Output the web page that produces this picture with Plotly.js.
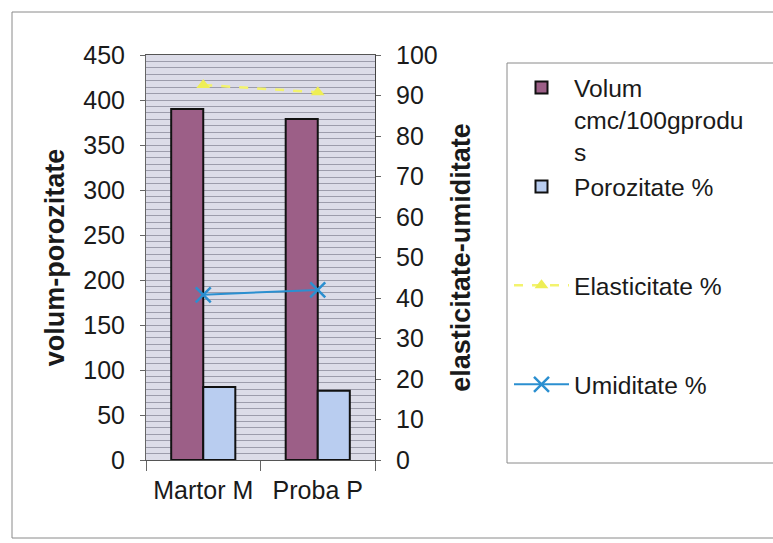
<!DOCTYPE html>
<html>
<head>
<meta charset="utf-8">
<script src="https://cdn.plot.ly/plotly-3.0.1.min.js"></script>
<style>html,body{margin:0;padding:0;background:#fff;}#chart{width:773px;height:543px;}</style>
</head>
<body>
<div id="chart"></div>
<script>
var categories = ["Martor M", "Proba P"];
var volum = [390, 379];
var porozitate = [81, 77];
var elasticitate = [92.6, 90.8];
var umiditate = [40.8, 42];
var leftTicks = [0, 50, 100, 150, 200, 250, 300, 350, 400, 450];
var rightTicks = [0, 10, 20, 30, 40, 50, 60, 70, 80, 90, 100];

var FONT = "Liberation Sans, Arial, sans-serif";

var traces = [
  {type: "bar", x: categories, y: volum, name: "Volum<br>cmc/100gprodu<br>s",
   marker: {color: "#9c5f87", line: {color: "#111", width: 2}}, yaxis: "y"},
  {type: "bar", x: categories, y: porozitate, name: "Porozitate %<br> <br> ",
   marker: {color: "#b9cdf0", line: {color: "#111", width: 2}}, yaxis: "y"},
  {type: "scatter", mode: "lines+markers", x: categories, y: elasticitate, name: "Elasticitate %<br> <br> ",
   line: {color: "#f3f36e", width: 2.5, dash: "dash"},
   marker: {symbol: "triangle-up", size: 12, color: "#eeee55"}, yaxis: "y2"},
  {type: "scatter", mode: "lines+markers", x: categories, y: umiditate, name: "Umiditate %",
   line: {color: "#2b8fd0", width: 2},
   marker: {symbol: "x-thin", size: 15, line: {color: "#2b8fd0", width: 2.5}}, yaxis: "y2"}
];

var L = 146, R = 375, T = 55, B = 460;
function px(x) { return (x - L) / (R - L); }
function py(y) { return (B - y) / (B - T); }

var layout = {
  width: 773, height: 543,
  margin: {l: L, r: 773 - R, t: T, b: 543 - B},
  paper_bgcolor: "#ffffff",
  plot_bgcolor: "#dcdce8",
  barmode: "group", bargap: 0.44, bargroupgap: 0,
  font: {family: FONT, color: "#1a1a1a", size: 25},
  showlegend: true,
  legend: {x: px(509), xanchor: "left", y: py(65), yanchor: "top",
           bgcolor: "rgba(0,0,0,0)", borderwidth: 0, valign: "top",
           itemwidth: 55, font: {family: FONT, size: 24.6, color: "#1a1a1a"},
           traceorder: "normal"},
  xaxis: {type: "category", showline: true, linecolor: "#555", linewidth: 1, mirror: true,
          ticks: "outside", tickson: "boundaries", ticklen: 10, tickcolor: "#666",
          ticklabelstandoff: 8, tickfont: {size: 25}, showgrid: false, fixedrange: true},
  yaxis: {range: [0, 450], tickvals: leftTicks, ticktext: leftTicks.map(String),
          showline: true, linecolor: "#666", ticks: "outside", ticklen: 5, tickcolor: "#666",
          ticklabelstandoff: 10, tickfont: {size: 25},
          showgrid: true, gridcolor: "#9c9cab", gridwidth: 1, zeroline: false,
          minor: {dtick: 50 / 7, tick0: 0, showgrid: true, gridcolor: "#9c9cab", gridwidth: 1},
          title: {text: "volum-porozitate", font: {size: 27, weight: "bold", color: "#1a1a1a"}, standoff: 10}},
  yaxis2: {range: [0, 100], tickvals: rightTicks, ticktext: rightTicks.map(String),
           overlaying: "y", side: "right", showline: true, linecolor: "#444",
           ticks: "outside", ticklen: 5, tickcolor: "#666", ticklabelstandoff: 10,
           tickfont: {size: 25}, showgrid: false, zeroline: false,
           title: {text: "elasticitate-umiditate", font: {size: 27, weight: "bold", color: "#1a1a1a"}, standoff: 14}},
  shapes: [
    {type: "rect", xref: "paper", yref: "paper", x0: px(507), x1: px(800), y0: py(463), y1: py(63),
     line: {color: "#8a8a8a", width: 1}, fillcolor: "rgba(0,0,0,0)", layer: "below"},
    {type: "rect", xref: "paper", yref: "paper", x0: px(12), x1: px(800), y0: py(538), y1: py(12),
     line: {color: "#8a8a8a", width: 1}, fillcolor: "rgba(0,0,0,0)", layer: "below"}
  ]
};

Plotly.newPlot("chart", traces, layout, {staticPlot: true, displayModeBar: false});
</script>
</body>
</html>
